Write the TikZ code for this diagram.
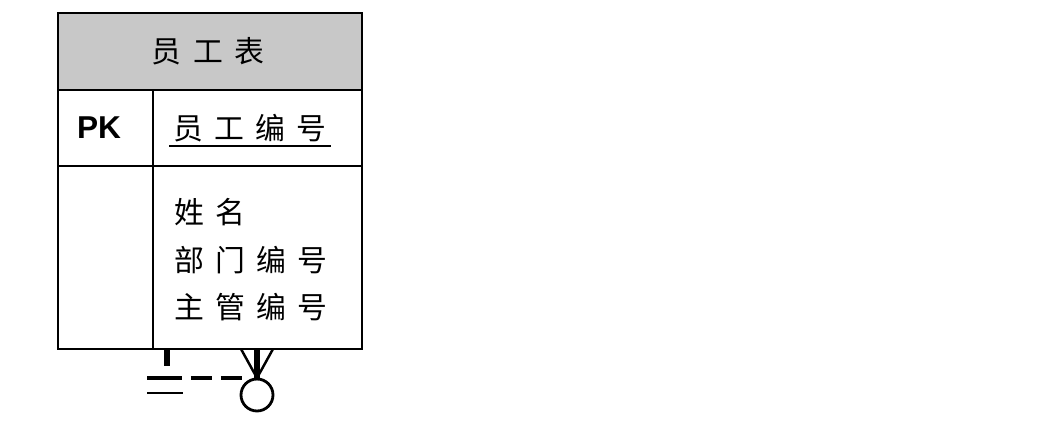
\documentclass[tikz,border=0pt]{standalone}
\usepackage{fontspec}
\newfontfamily\cjk[WordSpace=1.7]{Noto Sans CJK SC}
\newfontfamily\pkfont{Liberation Sans}
\usepackage{tikz}
\usetikzlibrary{calc}
\definecolor{hdrgray}{RGB}{200,200,200}
\tikzset{
  cell/.style={draw, line width=1.2pt, inner sep=0pt},
  cjktext/.style={font=\cjk\fontsize{17}{27}\selectfont, inner sep=1pt},
}

\begin{document}
\begin{tikzpicture}[x=0.02cm, y=-0.02cm]
  \useasboundingbox (0,0) rectangle (1039,428);

  % Define nodes
  \node[cell, fill=hdrgray, minimum width=6.08cm, minimum height=1.54cm] (head) at (210,51.5) {};
  \node[cell, minimum width=1.9cm, minimum height=1.52cm] (pk) at (105.5,128) {};
  \node[cell, minimum width=4.18cm, minimum height=1.52cm] (key) at (257.5,128) {};
  \node[cell, minimum width=1.9cm, minimum height=3.66cm] (blank) at (105.5,257.5) {};
  \node[cell, minimum width=4.18cm, minimum height=3.66cm] (body) at (257.5,257.5) {};

  % Texts
  \node[cjktext] (title) at (208,51.5) {员 工 表};
  \node[font=\pkfont\bfseries\fontsize{18}{22}\selectfont] (pklabel) at (99,128) {PK};
  \node[cjktext, inner sep=2pt] (keytext) at (250,128) {员 工 编 号};
  \node[cjktext, anchor=west, align=left] (attrs) at (172,260) {姓 名\\部 门 编 号\\主 管 编 号};
  \draw[line width=1pt] (keytext.south west) -- (keytext.south east);

  % Self relationship
  \coordinate (one) at (167,349);
  \coordinate (many) at (257,349);
  \coordinate (onebar) at (167,366);
  \coordinate (dashl) at (147,378);
  \coordinate (dashr) at (243,378);
  \coordinate (foot) at (257,378);
  \coordinate (lowl) at (147,393);
  \coordinate (lowr) at (183,393);
  \node[draw, circle, line width=1.6pt, minimum size=0.64cm, inner sep=0pt] (zero) at (257,395) {};

  \draw[line width=3pt] (one) -- (onebar);
  \draw[line width=2.6pt, dash pattern=on 20pt off 5pt on 12pt off 5pt on 12pt] (dashl) -- (dashr);
  \draw[line width=1.6pt] (lowl) -- (lowr);
  \draw[line width=3.5pt] (many) -- (foot);
  \draw[line width=1.4pt] ($(many)+(-16,0)$) -- (foot) -- ($(many)+(16,0)$);
  \draw[line width=1.4pt] (foot) -- (zero.north);

\end{tikzpicture}
\end{document}
